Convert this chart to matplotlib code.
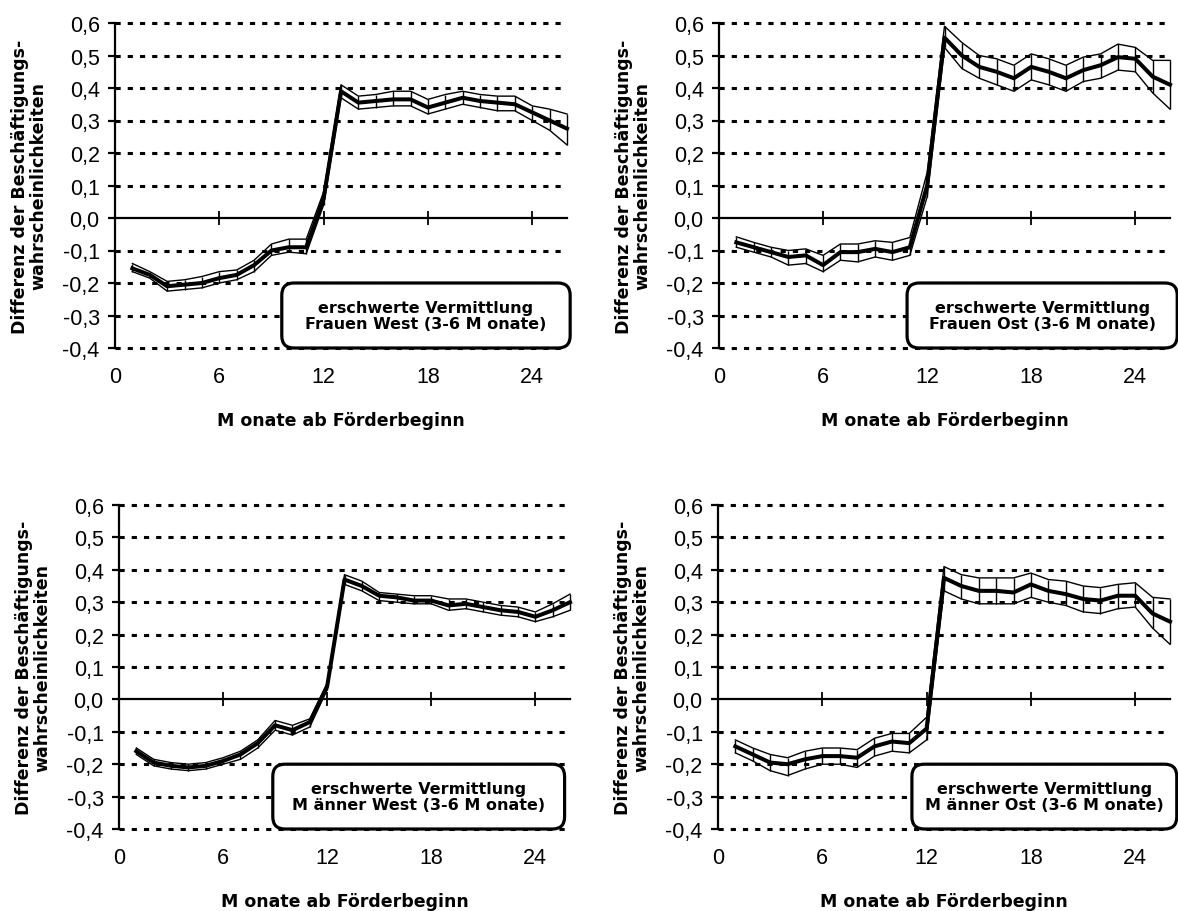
import matplotlib.pyplot as plt
from matplotlib.patches import FancyBboxPatch

# Monate ab Förderbeginn
monate = list(range(1, 27))

# Frauen West
fw_mittel = [-0.155, -0.175, -0.21, -0.205, -0.20, -0.185, -0.175, -0.145, -0.10, -0.09, -0.09, 0.06, 0.39,
             0.355, 0.36, 0.365, 0.365, 0.34, 0.355, 0.37, 0.36, 0.355, 0.35, 0.325, 0.30, 0.275]
fw_oben = [-0.14, -0.165, -0.195, -0.19, -0.18, -0.165, -0.16, -0.13, -0.08, -0.065, -0.065, 0.08, 0.41,
           0.375, 0.38, 0.39, 0.39, 0.365, 0.38, 0.39, 0.38, 0.375, 0.375, 0.345, 0.335, 0.32]
fw_unten = [-0.165, -0.185, -0.225, -0.22, -0.215, -0.20, -0.19, -0.165, -0.115, -0.105, -0.11, 0.04, 0.37,
            0.335, 0.34, 0.345, 0.345, 0.32, 0.335, 0.35, 0.34, 0.33, 0.33, 0.30, 0.27, 0.225]

# Frauen Ost
fo_mittel = [-0.075, -0.09, -0.105, -0.12, -0.115, -0.145, -0.105, -0.105, -0.095, -0.105, -0.09, 0.10, 0.555,
             0.50, 0.465, 0.45, 0.43, 0.465, 0.45, 0.43, 0.455, 0.47, 0.495, 0.49, 0.435, 0.41]
fo_oben = [-0.058, -0.075, -0.09, -0.10, -0.095, -0.115, -0.08, -0.08, -0.07, -0.075, -0.06, 0.14, 0.59,
           0.54, 0.50, 0.49, 0.47, 0.505, 0.49, 0.47, 0.495, 0.505, 0.535, 0.525, 0.485, 0.485]
fo_unten = [-0.09, -0.105, -0.12, -0.145, -0.14, -0.165, -0.13, -0.135, -0.12, -0.13, -0.115, 0.065, 0.525,
            0.46, 0.43, 0.41, 0.39, 0.425, 0.41, 0.39, 0.42, 0.43, 0.455, 0.45, 0.385, 0.335]

# Männer West
mw_mittel = [-0.16, -0.195, -0.205, -0.21, -0.205, -0.19, -0.17, -0.135, -0.08, -0.095, -0.07, 0.04, 0.37,
             0.35, 0.32, 0.315, 0.305, 0.305, 0.29, 0.295, 0.285, 0.275, 0.27, 0.255, 0.275, 0.30]
mw_oben = [-0.15, -0.185, -0.195, -0.20, -0.195, -0.18, -0.16, -0.125, -0.065, -0.08, -0.06, 0.05, 0.385,
           0.365, 0.33, 0.325, 0.32, 0.32, 0.31, 0.31, 0.30, 0.29, 0.285, 0.27, 0.295, 0.325]
mw_unten = [-0.17, -0.205, -0.215, -0.22, -0.215, -0.20, -0.185, -0.15, -0.095, -0.11, -0.085, 0.03, 0.355,
            0.335, 0.305, 0.30, 0.295, 0.295, 0.275, 0.28, 0.27, 0.26, 0.255, 0.24, 0.255, 0.275]

# Männer Ost
mo_mittel = [-0.145, -0.17, -0.195, -0.20, -0.185, -0.175, -0.175, -0.18, -0.145, -0.13, -0.135, -0.09, 0.375,
             0.35, 0.335, 0.335, 0.33, 0.355, 0.335, 0.325, 0.31, 0.305, 0.32, 0.32, 0.265, 0.24]
mo_oben = [-0.125, -0.15, -0.17, -0.18, -0.16, -0.15, -0.15, -0.155, -0.12, -0.105, -0.105, -0.055, 0.41,
           0.385, 0.375, 0.375, 0.375, 0.39, 0.37, 0.365, 0.35, 0.345, 0.355, 0.36, 0.315, 0.31]
mo_unten = [-0.165, -0.19, -0.22, -0.235, -0.215, -0.20, -0.20, -0.21, -0.175, -0.16, -0.165, -0.125, 0.335,
            0.31, 0.295, 0.295, 0.295, 0.315, 0.30, 0.29, 0.27, 0.265, 0.28, 0.285, 0.22, 0.17]

titel = [
    "erschwerte Vermittlung\nFrauen West (3-6 M onate)",
    "erschwerte Vermittlung\nFrauen Ost (3-6 M onate)",
    "erschwerte Vermittlung\nM änner West (3-6 M onate)",
    "erschwerte Vermittlung\nM änner Ost (3-6 M onate)",
]

y_ticks = [-0.4, -0.3, -0.2, -0.1, 0.0, 0.1, 0.2, 0.3, 0.4, 0.5, 0.6]
y_tick_labels = ["-0,4", "-0,3", "-0,2", "-0,1", "0,0", "0,1", "0,2", "0,3", "0,4", "0,5", "0,6"]
x_ticks = [0, 6, 12, 18, 24]
x_tick_labels = ["0", "6", "12", "18", "24"]

Y_LABEL = "Differenz der Beschäftigungs-\nwahrscheinlichkeiten"
X_LABEL = "M onate ab Förderbeginn"

# Layout (Pixel bei 1178x912)
BREITE, HOEHE = 1178, 912
ACHSEN_PX = [(115, 24, 452, 325), (719, 24, 451, 325), (119, 506, 451, 324), (718, 506, 452, 324)]
BOX_X = [(0.369, 1.007), (0.417, 1.016), (0.341, 0.988), (0.429, 1.015)]

plt.rcParams["font.family"] = ["Liberation Sans", "DejaVu Sans"]
fett = dict(family="DejaVu Sans", weight="bold", fontsize=12.5)

fig = plt.figure(figsize=(BREITE / 100, HOEHE / 100), dpi=100)

reihen = [(fw_mittel, fw_oben, fw_unten), (fo_mittel, fo_oben, fo_unten),
          (mw_mittel, mw_oben, mw_unten), (mo_mittel, mo_oben, mo_unten)]

for i, (mittel, oben, unten) in enumerate(reihen):
    l, t, w, h = ACHSEN_PX[i]
    ax = fig.add_axes([l / BREITE, 1 - (t + h) / HOEHE, w / BREITE, h / HOEHE])
    ax.set_xlim(0, 26)
    ax.set_ylim(-0.4, 0.6)
    for s in ["top", "right", "bottom"]:
        ax.spines[s].set_visible(False)
    ax.spines["left"].set_linewidth(1.6)

    ax.set_yticks(y_ticks)
    ax.set_yticklabels(y_tick_labels, fontsize=15.5)
    ax.tick_params(axis="y", direction="out", length=5, width=1.6, pad=6)
    ax.set_xticks(x_ticks)
    ax.set_xticklabels(x_tick_labels, fontsize=15.5)
    ax.tick_params(axis="x", length=0, pad=13)

    # gepunktete Hilfslinien (ohne Nulllinie)
    ax.hlines([v for v in y_ticks if v != 0], 0, 26, colors="black", linewidth=2.2,
              linestyles=(0, (1.7, 2.3)), zorder=1, clip_on=False)

    # Nulllinie mit Tickmarken
    sec = ax.secondary_xaxis(0.4)
    sec.set_xticks(x_ticks)
    sec.tick_params(direction="inout", length=10, width=1.3, labelbottom=False)
    sec.spines["bottom"].set_linewidth(1.6)
    sec.set_zorder(1.5)

    ax.vlines(monate, unten, oben, colors="black", linewidth=1.0, zorder=2, clip_on=False)
    ax.plot(monate, oben, color="black", linewidth=1.0, zorder=2, clip_on=False)
    ax.plot(monate, unten, color="black", linewidth=1.0, zorder=2, clip_on=False)
    ax.plot(monate, mittel, color="black", linewidth=2.9, zorder=2.5, clip_on=False)

    ax.set_ylabel(Y_LABEL, linespacing=1.0, **fett)
    ax.yaxis.set_label_coords(-0.15, 0.5)
    ax.set_xlabel(X_LABEL, **fett)
    ax.xaxis.set_label_coords(0.5, -0.195)

    x0, x1 = BOX_X[i]
    box = FancyBboxPatch((x0, 0.0), x1 - x0, 0.2, boxstyle="round,pad=0,rounding_size=0.027",
                         mutation_aspect=w / h, transform=ax.transAxes, facecolor="white",
                         edgecolor="black", linewidth=2.3, zorder=3, clip_on=False)
    ax.add_patch(box)
    ax.text((x0 + x1) / 2, 0.1, titel[i], transform=ax.transAxes, ha="center", va="center",
            linespacing=1.15, zorder=4, family="DejaVu Sans", weight="bold", fontsize=11.5)

fig.savefig("out.png", dpi=100)
